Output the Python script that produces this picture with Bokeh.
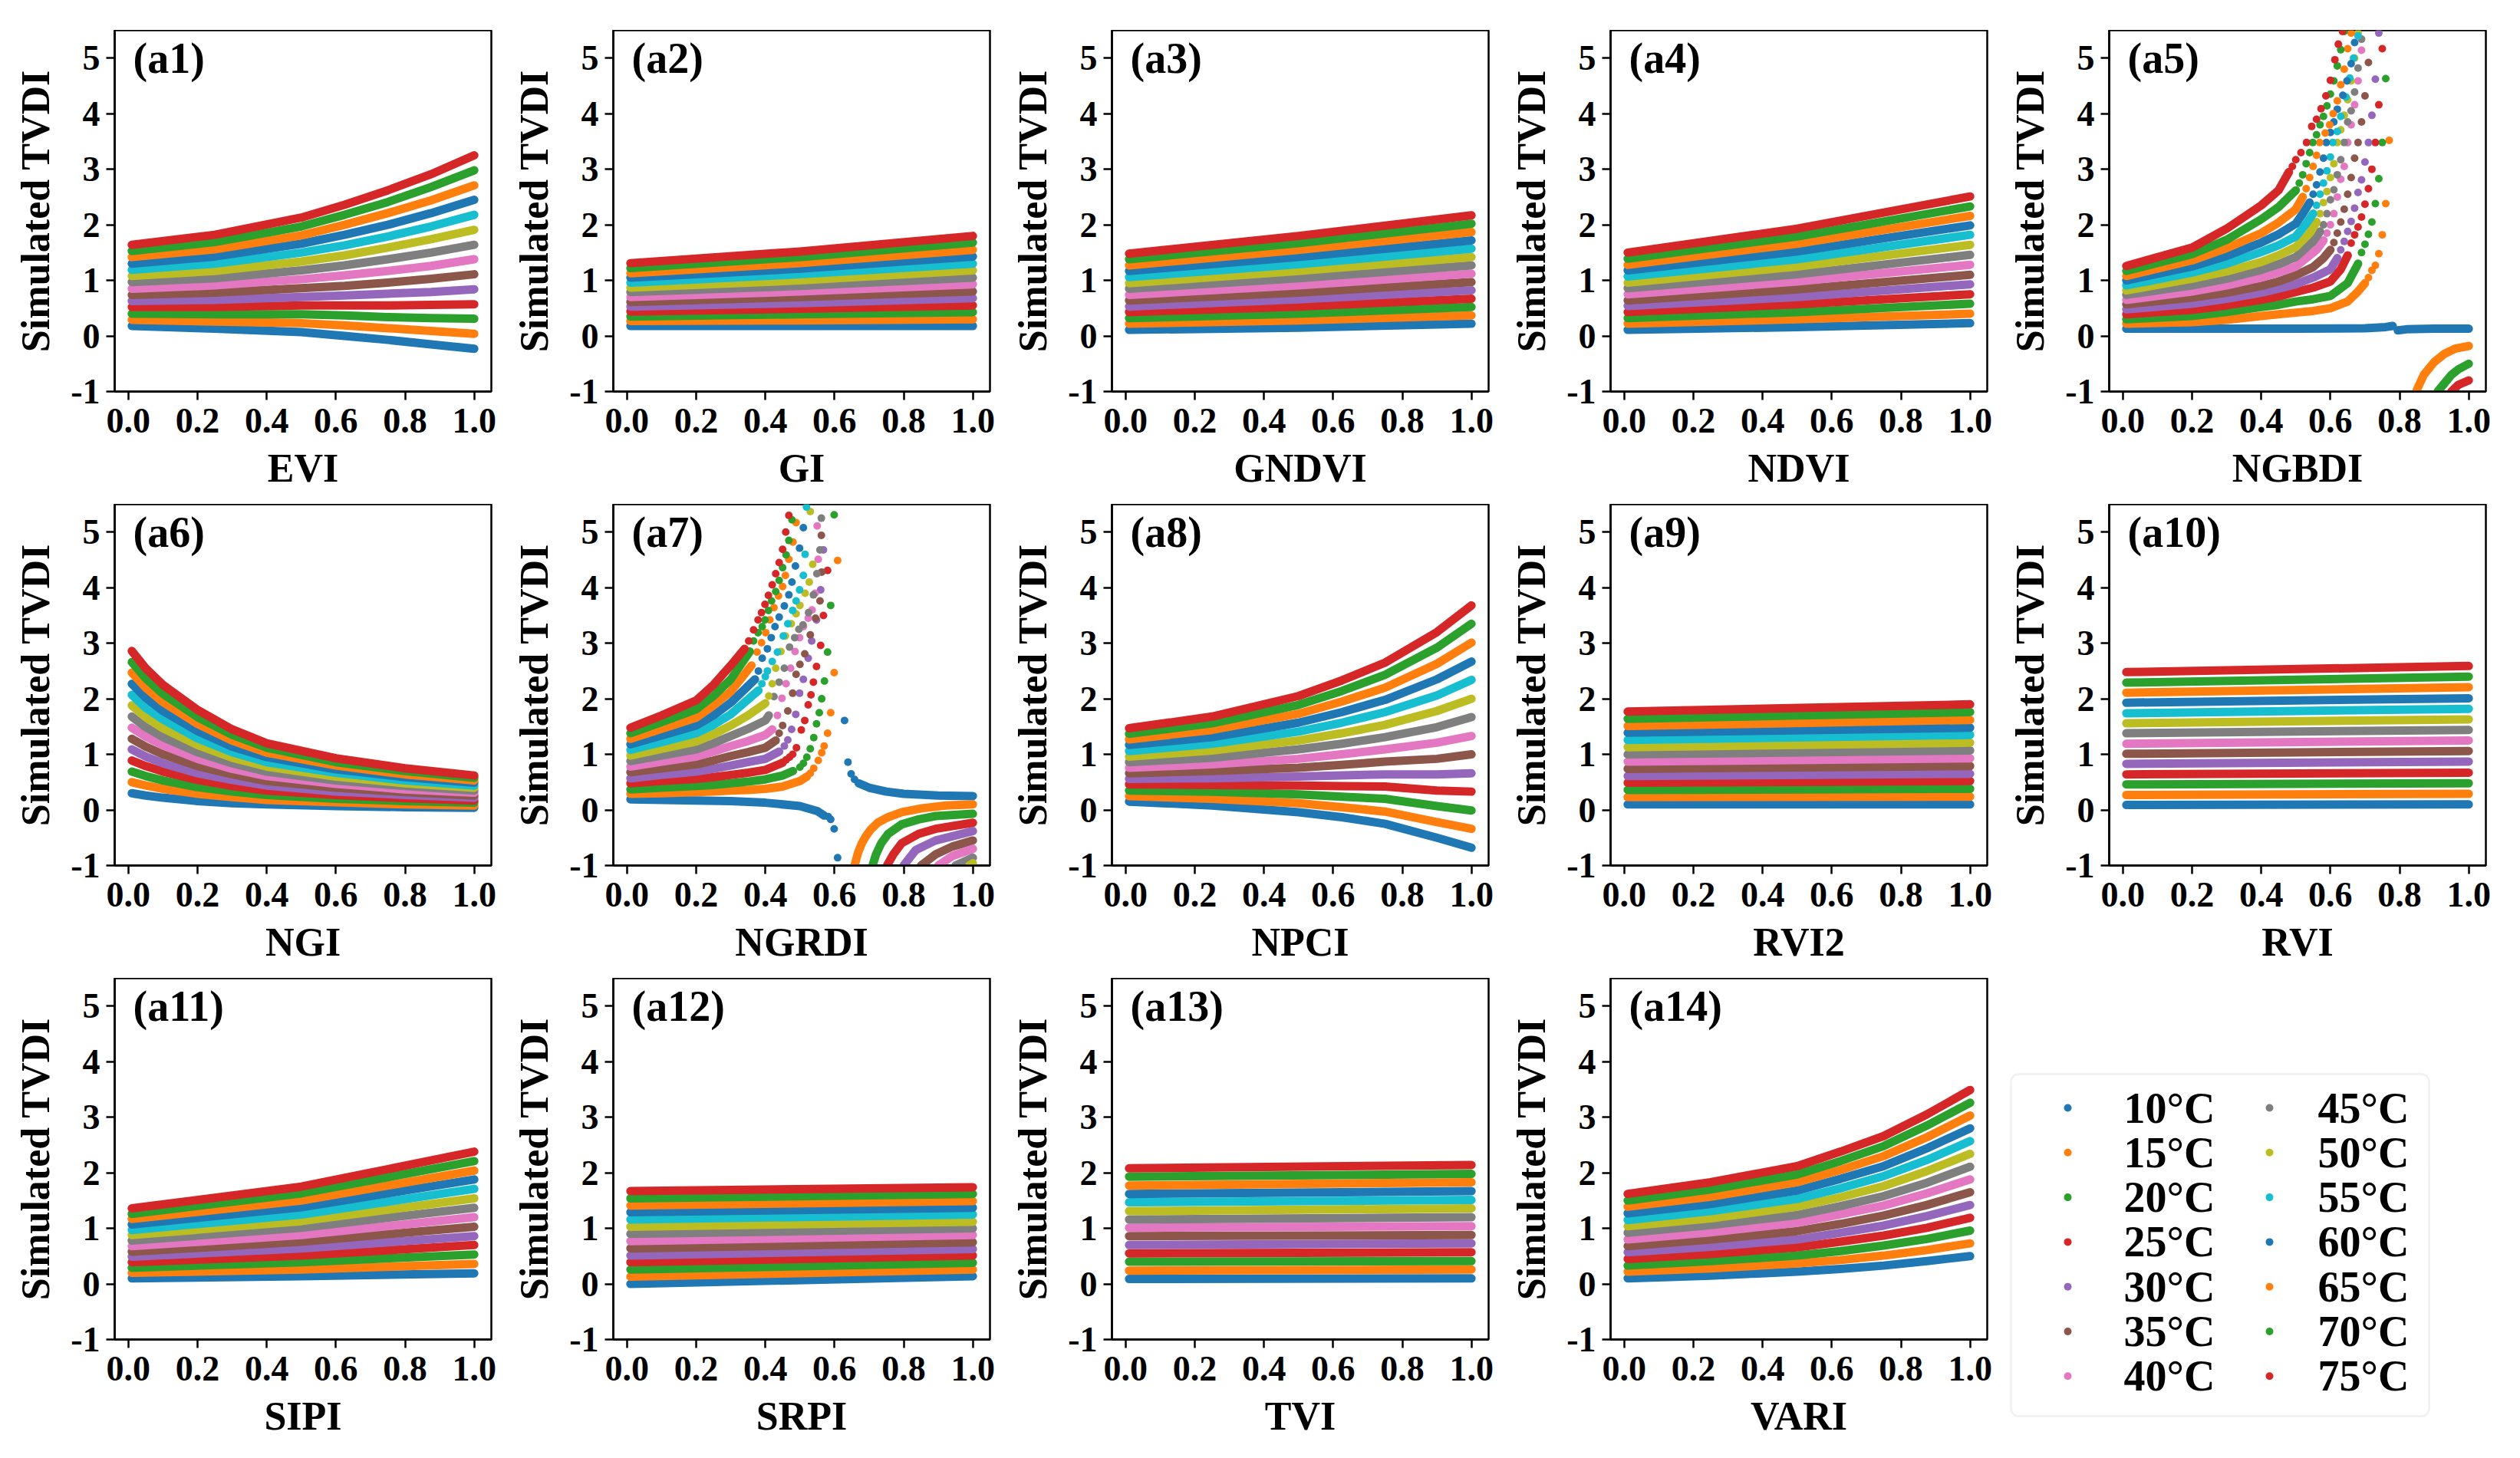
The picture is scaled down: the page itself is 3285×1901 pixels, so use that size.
import numpy as np
from bokeh.plotting import figure
from bokeh.layouts import column, row
from bokeh.models import Range1d, FixedTicker, Label, BoxAnnotation, Spacer, NumeralTickFormatter, ColumnDataSource
from bokeh.embed import file_html
from bokeh.resources import INLINE
from bokeh.core.properties import value

NAN = float("nan")

TEMPS = ["10°C", "15°C", "20°C", "25°C", "30°C", "35°C", "40°C",
         "45°C", "50°C", "55°C", "60°C", "65°C", "70°C", "75°C"]
COLORS = ["#1f77b4", "#ff7f0e", "#2ca02c", "#d62728", "#9467bd", "#8c564b", "#e377c2",
          "#7f7f7f", "#bcbd22", "#17becf", "#1f77b4", "#ff7f0e", "#2ca02c", "#d62728"]
X_TICKS = [0.0, 0.2, 0.4, 0.6, 0.8, 1.0]
Y_TICKS = [-1, 0, 1, 2, 3, 4, 5]

# ---------------- smooth panels: values read at a few VI positions ----------------
EVI_X = [0.01, 0.25, 0.5, 0.625, 0.75, 0.875, 1.0]
EVI_Y = [[0.18, 0.13, 0.07, 0.00, -0.07, -0.15, -0.23], [0.29, 0.26, 0.23, 0.19, 0.14, 0.09, 0.04],
         [0.40, 0.39, 0.39, 0.37, 0.34, 0.32, 0.31], [0.52, 0.52, 0.55, 0.55, 0.55, 0.56, 0.57],
         [0.63, 0.65, 0.70, 0.73, 0.76, 0.79, 0.84], [0.74, 0.78, 0.86, 0.90, 0.96, 1.03, 1.11],
         [0.85, 0.91, 1.02, 1.09, 1.17, 1.26, 1.38], [0.97, 1.04, 1.18, 1.27, 1.38, 1.50, 1.64],
         [1.08, 1.17, 1.34, 1.45, 1.59, 1.74, 1.91], [1.19, 1.30, 1.50, 1.63, 1.79, 1.97, 2.18],
         [1.30, 1.43, 1.66, 1.82, 2.00, 2.21, 2.45], [1.42, 1.56, 1.81, 2.00, 2.21, 2.44, 2.71],
         [1.53, 1.69, 1.97, 2.18, 2.41, 2.68, 2.98], [1.64, 1.82, 2.13, 2.36, 2.62, 2.91, 3.25]]

GI_X = [0.01, 0.5, 1.0]
GI_Y = [[0.18, 0.18, 0.18], [0.27, 0.28, 0.30], [0.35, 0.39, 0.43], [0.44, 0.49, 0.55],
        [0.53, 0.59, 0.68], [0.61, 0.70, 0.80], [0.70, 0.80, 0.93], [0.79, 0.90, 1.05],
        [0.87, 1.00, 1.18], [0.96, 1.11, 1.30], [1.05, 1.21, 1.43], [1.13, 1.31, 1.55],
        [1.22, 1.42, 1.68], [1.31, 1.52, 1.80]]

GNDVI_X = [0.01, 0.5, 1.0]
GNDVI_Y = [[0.11, 0.15, 0.22], [0.22, 0.28, 0.37], [0.32, 0.40, 0.52], [0.43, 0.53, 0.67],
           [0.53, 0.66, 0.82], [0.64, 0.78, 0.97], [0.74, 0.91, 1.12], [0.85, 1.04, 1.27],
           [0.95, 1.17, 1.42], [1.06, 1.29, 1.57], [1.17, 1.42, 1.72], [1.27, 1.55, 1.87],
           [1.38, 1.67, 2.02], [1.48, 1.80, 2.17]]

NDVI_X = [0.01, 0.5, 1.0]
NDVI_Y = [[0.11, 0.16, 0.23], [0.22, 0.30, 0.40], [0.32, 0.43, 0.58], [0.43, 0.57, 0.75],
          [0.54, 0.70, 0.93], [0.64, 0.84, 1.10], [0.75, 0.98, 1.28], [0.86, 1.11, 1.46],
          [0.96, 1.25, 1.64], [1.07, 1.38, 1.82], [1.18, 1.52, 1.99], [1.28, 1.66, 2.16],
          [1.39, 1.79, 2.33], [1.50, 1.93, 2.51]]

NGI_X = [0.01, 0.05, 0.1, 0.2, 0.3, 0.4, 0.6, 0.8, 1.0]
NGI_Y = [[0.30, 0.26, 0.22, 0.16, 0.12, 0.10, 0.07, 0.05, 0.04],
         [0.50, 0.44, 0.38, 0.29, 0.23, 0.18, 0.14, 0.10, 0.08],
         [0.69, 0.61, 0.53, 0.41, 0.33, 0.27, 0.20, 0.16, 0.13],
         [0.89, 0.79, 0.69, 0.54, 0.43, 0.35, 0.27, 0.21, 0.17],
         [1.09, 0.96, 0.84, 0.66, 0.54, 0.44, 0.33, 0.27, 0.22],
         [1.28, 1.14, 1.00, 0.79, 0.64, 0.52, 0.40, 0.32, 0.26],
         [1.48, 1.32, 1.16, 0.92, 0.74, 0.61, 0.47, 0.37, 0.31],
         [1.68, 1.49, 1.31, 1.04, 0.84, 0.69, 0.53, 0.43, 0.35],
         [1.88, 1.67, 1.47, 1.17, 0.94, 0.78, 0.60, 0.48, 0.40],
         [2.07, 1.84, 1.63, 1.29, 1.04, 0.86, 0.67, 0.53, 0.44],
         [2.27, 2.02, 1.78, 1.42, 1.14, 0.95, 0.73, 0.59, 0.49],
         [2.47, 2.20, 1.94, 1.55, 1.25, 1.03, 0.80, 0.64, 0.53],
         [2.66, 2.37, 2.09, 1.67, 1.35, 1.12, 0.86, 0.70, 0.58],
         [2.86, 2.55, 2.25, 1.80, 1.45, 1.20, 0.93, 0.75, 0.62]]

NPCI_X = [0.01, 0.25, 0.5, 0.625, 0.75, 0.9, 1.0]
NPCI_Y = [[0.15, 0.08, -0.04, -0.13, -0.25, -0.50, -0.68], [0.25, 0.20, 0.12, 0.05, -0.03, -0.22, -0.34],
          [0.35, 0.33, 0.28, 0.24, 0.20, 0.07, -0.01], [0.46, 0.45, 0.44, 0.43, 0.42, 0.35, 0.33],
          [0.56, 0.57, 0.60, 0.62, 0.64, 0.64, 0.66], [0.66, 0.70, 0.76, 0.81, 0.87, 0.92, 1.00],
          [0.76, 0.82, 0.92, 1.00, 1.09, 1.21, 1.33], [0.86, 0.94, 1.09, 1.19, 1.31, 1.49, 1.67],
          [0.96, 1.07, 1.25, 1.38, 1.53, 1.78, 2.00], [1.06, 1.19, 1.41, 1.57, 1.76, 2.06, 2.34],
          [1.17, 1.31, 1.57, 1.76, 1.98, 2.35, 2.67], [1.27, 1.44, 1.73, 1.95, 2.20, 2.63, 3.01],
          [1.37, 1.56, 1.89, 2.14, 2.43, 2.92, 3.35], [1.47, 1.68, 2.05, 2.33, 2.65, 3.20, 3.68]]

RVI2_X = [0.01, 1.0]
RVI2_Y = [[0.10, 0.10], [0.23, 0.24], [0.36, 0.38], [0.49, 0.52], [0.61, 0.65], [0.74, 0.79],
          [0.87, 0.93], [1.00, 1.07], [1.13, 1.21], [1.26, 1.35], [1.39, 1.48], [1.51, 1.62],
          [1.64, 1.76], [1.77, 1.90]]

RVI_X = [0.01, 1.0]
RVI_Y = [[0.09, 0.10], [0.27, 0.29], [0.46, 0.48], [0.64, 0.67], [0.83, 0.87], [1.01, 1.06],
         [1.19, 1.25], [1.38, 1.44], [1.56, 1.63], [1.74, 1.82], [1.93, 2.01], [2.11, 2.21],
         [2.29, 2.40], [2.48, 2.59]]

SIPI_X = [0.01, 0.5, 1.0]
SIPI_Y = [[0.10, 0.14, 0.19], [0.20, 0.26, 0.36], [0.29, 0.39, 0.53], [0.39, 0.51, 0.70],
          [0.49, 0.64, 0.86], [0.58, 0.76, 1.03], [0.68, 0.88, 1.20], [0.78, 1.01, 1.37],
          [0.88, 1.13, 1.54], [0.97, 1.25, 1.71], [1.07, 1.38, 1.88], [1.17, 1.50, 2.04],
          [1.26, 1.63, 2.21], [1.36, 1.75, 2.38]]

SRPI_X = [0.01, 1.0]
SRPI_Y = [[0.00, 0.14], [0.13, 0.26], [0.26, 0.38], [0.39, 0.51], [0.51, 0.63], [0.64, 0.75],
          [0.77, 0.88], [0.90, 1.00], [1.03, 1.12], [1.16, 1.25], [1.29, 1.37], [1.41, 1.49],
          [1.54, 1.62], [1.67, 1.74]]

TVI_X = [0.01, 1.0]
TVI_Y = [[0.09, 0.10], [0.24, 0.26], [0.40, 0.41], [0.55, 0.57], [0.70, 0.73], [0.86, 0.88],
         [1.01, 1.04], [1.16, 1.20], [1.31, 1.36], [1.47, 1.51], [1.62, 1.67], [1.77, 1.83],
         [1.93, 1.98], [2.08, 2.14]]

VARI_X = [0.01, 0.25, 0.5, 0.625, 0.75, 0.875, 1.0]
VARI_Y = [[0.10, 0.15, 0.22, 0.27, 0.33, 0.41, 0.50], [0.22, 0.28, 0.37, 0.43, 0.51, 0.61, 0.73],
          [0.33, 0.41, 0.51, 0.59, 0.69, 0.81, 0.96], [0.45, 0.54, 0.66, 0.76, 0.87, 1.01, 1.19],
          [0.57, 0.67, 0.80, 0.92, 1.05, 1.22, 1.42], [0.68, 0.80, 0.95, 1.08, 1.23, 1.42, 1.65],
          [0.80, 0.93, 1.10, 1.25, 1.41, 1.63, 1.88], [0.92, 1.06, 1.24, 1.40, 1.58, 1.82, 2.11],
          [1.04, 1.18, 1.39, 1.56, 1.76, 2.03, 2.34], [1.15, 1.31, 1.53, 1.72, 1.94, 2.23, 2.57],
          [1.27, 1.44, 1.68, 1.89, 2.12, 2.44, 2.80], [1.39, 1.57, 1.83, 2.05, 2.30, 2.64, 3.03],
          [1.50, 1.70, 1.97, 2.21, 2.48, 2.85, 3.26], [1.62, 1.83, 2.12, 2.38, 2.66, 3.05, 3.49]]

# ---------------- NGBDI: dense parts (lines, NAN = break) and sparse dots ----------------
NGBDI_LINE_X = [
    [0.01, 0.5, 0.7, 0.76, 0.78, NAN, 0.795, 0.82, 0.9, 1.0],
    [0.01, 0.2, 0.3, 0.4, 0.45, 0.5, 0.55, 0.6, 0.65, 0.68, 0.70, NAN, 0.85, 0.87, 0.90, 0.93, 0.96, 1.0],
    [0.01, 0.2, 0.3, 0.4, 0.45, 0.5, 0.55, 0.6, 0.65, 0.68, NAN, 0.91, 0.93, 0.95, 0.97, 1.0],
    [0.01, 0.2, 0.3, 0.4, 0.45, 0.5, 0.55, 0.6, 0.63, 0.65, NAN, 0.95, 0.97, 1.0],
    [0.01, 0.2, 0.3, 0.4, 0.45, 0.5, 0.55, 0.6, 0.62],
    [0.01, 0.2, 0.3, 0.4, 0.45, 0.5, 0.55, 0.58, 0.60],
    [0.01, 0.2, 0.3, 0.4, 0.45, 0.5, 0.56, 0.58],
    [0.01, 0.2, 0.3, 0.4, 0.45, 0.5, 0.55, 0.57],
    [0.01, 0.2, 0.3, 0.4, 0.45, 0.5, 0.54, 0.56],
    [0.01, 0.2, 0.3, 0.4, 0.45, 0.5, 0.53, 0.55],
    [0.01, 0.2, 0.3, 0.4, 0.45, 0.5, 0.52, 0.54],
    [0.01, 0.2, 0.3, 0.4, 0.45, 0.5, 0.52],
    [0.01, 0.2, 0.3, 0.4, 0.45, 0.5],
    [0.01, 0.2, 0.3, 0.4, 0.45, 0.48]]
NGBDI_LINE_Y = [
    [0.13, 0.13, 0.14, 0.16, 0.18, NAN, 0.10, 0.12, 0.13, 0.13],
    [0.22, 0.25, 0.29, 0.36, 0.39, 0.42, 0.45, 0.50, 0.62, 0.80, 0.95, NAN, -0.97, -0.70, -0.47, -0.32, -0.23, -0.18],
    [0.30, 0.36, 0.43, 0.52, 0.56, 0.62, 0.66, 0.72, 0.95, 1.30, NAN, -1.0, -0.85, -0.70, -0.60, -0.50],
    [0.39, 0.47, 0.55, 0.65, 0.71, 0.79, 0.87, 0.98, 1.20, 1.45, NAN, -1.0, -0.88, -0.80],
    [0.48, 0.58, 0.67, 0.78, 0.85, 0.93, 1.05, 1.20, 1.40],
    [0.57, 0.69, 0.78, 0.90, 0.98, 1.09, 1.24, 1.40, 1.55],
    [0.65, 0.80, 0.91, 1.05, 1.14, 1.25, 1.55, 1.72],
    [0.74, 0.91, 1.03, 1.19, 1.29, 1.42, 1.70, 1.88],
    [0.82, 1.03, 1.16, 1.33, 1.45, 1.60, 1.85, 2.05],
    [0.91, 1.14, 1.30, 1.51, 1.63, 1.79, 2.02, 2.20],
    [1.00, 1.25, 1.44, 1.68, 1.83, 2.02, 2.20, 2.40],
    [1.08, 1.36, 1.58, 1.85, 2.04, 2.28, 2.50],
    [1.17, 1.47, 1.73, 2.10, 2.32, 2.62],
    [1.26, 1.59, 1.93, 2.35, 2.62, 2.95]]
NGBDI_DOT_X = [
    [],
    [0.71, 0.72, 0.73, 0.74, 0.75, 0.76, 0.77],
    [0.69, 0.70, 0.71, 0.72, 0.73, 0.74, 0.75, 0.76],
    [0.66, 0.67, 0.68, 0.69, 0.70, 0.71, 0.72, 0.73, 0.74, 0.75],
    [0.63, 0.64, 0.65, 0.66, 0.67, 0.68, 0.69, 0.70, 0.71, 0.72, 0.73, 0.74],
    [0.61, 0.62, 0.63, 0.64, 0.65, 0.66, 0.67, 0.68, 0.69, 0.70, 0.71],
    [0.59, 0.60, 0.61, 0.62, 0.63, 0.64, 0.65, 0.66, 0.67, 0.68, 0.69],
    [0.58, 0.59, 0.60, 0.61, 0.62, 0.63, 0.64, 0.65, 0.66, 0.67, 0.68, 0.69],
    [0.57, 0.58, 0.59, 0.60, 0.61, 0.62, 0.63, 0.64, 0.65, 0.66, 0.67, 0.68],
    [0.56, 0.57, 0.58, 0.59, 0.60, 0.607, 0.62, 0.63, 0.645, 0.656, 0.667, 0.68],
    [0.55, 0.56, 0.57, 0.58, 0.588, 0.60, 0.61, 0.62, 0.636, 0.648, 0.66, 0.67],
    [0.53, 0.54, 0.55, 0.56, 0.569, 0.585, 0.598, 0.608, 0.62, 0.63, 0.64, 0.65, 0.66],
    [0.51, 0.52, 0.53, 0.54, 0.549, 0.56, 0.57, 0.58, 0.59, 0.60, 0.61, 0.62, 0.63, 0.64],
    [0.49, 0.50, 0.515, 0.531, 0.546, 0.56, 0.573, 0.587, 0.60, 0.613, 0.623, 0.635]]
NGBDI_DOT_Y = [
    [],
    [1.05, 1.18, 1.27, 1.48, 1.82, 2.38, 3.52],
    [1.50, 1.65, 1.83, 2.05, 2.38, 2.83, 3.48, 4.63],
    [1.67, 1.82, 1.96, 2.14, 2.37, 2.65, 3.00, 3.48, 4.16, 5.17],
    [1.55, 1.70, 1.88, 2.06, 2.30, 2.58, 2.81, 3.13, 3.48, 3.97, 4.62, 5.45],
    [1.68, 1.85, 2.05, 2.28, 2.55, 2.85, 3.20, 3.48, 3.85, 4.32, 4.92],
    [1.85, 2.00, 2.20, 2.50, 2.82, 3.05, 3.48, 3.80, 4.16, 4.59, 5.14],
    [2.00, 2.20, 2.45, 2.63, 2.90, 3.17, 3.48, 3.85, 4.05, 4.39, 4.82, 5.34],
    [2.20, 2.40, 2.60, 2.85, 3.10, 3.48, 3.71, 3.97, 4.25, 4.59, 5.00, 5.45],
    [2.35, 2.55, 2.75, 2.97, 3.22, 3.48, 3.68, 3.95, 4.30, 4.64, 5.00, 5.40],
    [2.55, 2.72, 2.95, 3.20, 3.48, 3.66, 3.85, 4.08, 4.33, 4.59, 4.90, 5.28],
    [2.65, 2.85, 3.05, 3.25, 3.48, 3.65, 3.80, 4.00, 4.23, 4.52, 4.80, 5.17, 5.45],
    [2.75, 2.90, 3.10, 3.30, 3.48, 3.62, 3.80, 3.95, 4.14, 4.35, 4.59, 4.86, 5.15, 5.48],
    [3.05, 3.17, 3.30, 3.48, 3.77, 3.90, 4.09, 4.32, 4.60, 4.97, 5.25, 5.48]]

# ---------------- NGRDI: dense parts and sparse dots ----------------
NGRDI_LINE_X = [
    [0.01, 0.2, 0.3, 0.4, 0.5, 0.55, 0.57, NAN, 0.67, 0.70, 0.75, 0.80, 0.90, 1.0],
    [0.01, 0.1, 0.2, 0.25, 0.3, 0.35, 0.4, 0.45, 0.5, 0.52, NAN, 0.658, 0.668, 0.679, 0.69, 0.705, 0.725, 0.755, 0.795, 0.853, 0.922, 1.0],
    [0.01, 0.1, 0.2, 0.25, 0.3, 0.35, 0.4, 0.45, 0.48, NAN, 0.71, 0.72, 0.735, 0.755, 0.794, 0.843, 0.892, 1.0],
    [0.01, 0.1, 0.2, 0.25, 0.3, 0.35, 0.4, 0.45, NAN, 0.752, 0.77, 0.794, 0.843, 0.892, 1.0],
    [0.01, 0.1, 0.2, 0.25, 0.3, 0.35, 0.4, 0.44, NAN, 0.80, 0.835, 0.892, 1.0],
    [0.01, 0.1, 0.2, 0.25, 0.3, 0.35, 0.4, 0.43, NAN, 0.85, 0.892, 0.94, 1.0],
    [0.01, 0.1, 0.2, 0.25, 0.3, 0.35, 0.4, 0.42, NAN, 0.90, 0.94, 1.0],
    [0.01, 0.1, 0.2, 0.25, 0.3, 0.35, 0.4, 0.41, NAN, 0.95, 1.0],
    [0.01, 0.1, 0.2, 0.25, 0.3, 0.35, 0.4, NAN, 0.99, 1.0],
    [0.01, 0.1, 0.2, 0.25, 0.3, 0.38],
    [0.01, 0.1, 0.2, 0.25, 0.3, 0.37],
    [0.01, 0.1, 0.2, 0.25, 0.3, 0.36],
    [0.01, 0.1, 0.2, 0.25, 0.3, 0.355],
    [0.01, 0.1, 0.2, 0.25, 0.3, 0.34]]
NGRDI_LINE_Y = [
    [0.19, 0.17, 0.16, 0.13, 0.07, -0.02, -0.10, NAN, 0.48, 0.40, 0.33, 0.29, 0.26, 0.25],
    [0.29, 0.30, 0.32, 0.33, 0.35, 0.36, 0.38, 0.42, 0.52, 0.60, NAN, -1.0, -0.77, -0.60, -0.48, -0.35, -0.23, -0.13, -0.04, 0.03, 0.08, 0.10],
    [0.37, 0.40, 0.43, 0.45, 0.48, 0.51, 0.55, 0.62, 0.70, NAN, -1.0, -0.80, -0.60, -0.43, -0.26, -0.17, -0.11, -0.07],
    [0.48, 0.52, 0.56, 0.59, 0.63, 0.67, 0.72, 0.85, NAN, -1.0, -0.80, -0.60, -0.43, -0.34, -0.23],
    [0.57, 0.63, 0.69, 0.74, 0.80, 0.86, 0.92, 1.05, NAN, -1.0, -0.72, -0.55, -0.38],
    [0.68, 0.75, 0.82, 0.89, 0.97, 1.04, 1.12, 1.25, NAN, -1.0, -0.80, -0.66, -0.55],
    [0.78, 0.87, 0.96, 1.05, 1.15, 1.24, 1.35, 1.45, NAN, -1.0, -0.83, -0.70],
    [0.88, 0.98, 1.09, 1.20, 1.33, 1.46, 1.61, 1.70, NAN, -1.0, -0.86],
    [0.98, 1.10, 1.23, 1.36, 1.52, 1.70, 1.92, NAN, -1.0, -0.96],
    [1.08, 1.22, 1.38, 1.53, 1.72, 2.15],
    [1.18, 1.34, 1.52, 1.70, 1.93, 2.35],
    [1.28, 1.46, 1.66, 1.88, 2.13, 2.60],
    [1.38, 1.58, 1.81, 2.05, 2.35, 2.85],
    [1.48, 1.70, 1.97, 2.25, 2.60, 2.90]]
NGRDI_DOT_X = [
    [0.582, 0.589, 0.599, 0.609, 0.629, 0.639, 0.648, 0.658],
    [0.53, 0.54, 0.553, 0.563, 0.57, 0.58, 0.589, 0.599, 0.609],
    [0.50, 0.51, 0.52, 0.53, 0.54, 0.548, 0.556, 0.563, 0.571, 0.58, 0.589, 0.599],
    [0.46, 0.47, 0.479, 0.49, 0.504, 0.514, 0.524, 0.532, 0.539, 0.548, 0.56, 0.568, 0.58],
    [0.455, 0.465, 0.476, 0.488, 0.499, 0.51, 0.524, 0.534, 0.548, 0.56, 0.568],
    [0.44, 0.45, 0.465, 0.479, 0.489, 0.50, 0.514, 0.53, 0.545, 0.558, 0.563, 0.562],
    [0.435, 0.448, 0.46, 0.473, 0.486, 0.499, 0.51, 0.524, 0.535, 0.544, 0.553, 0.55],
    [0.425, 0.44, 0.455, 0.47, 0.485, 0.497, 0.509, 0.525, 0.539, 0.549, 0.558, 0.562],
    [0.41, 0.42, 0.43, 0.445, 0.458, 0.475, 0.489, 0.50, 0.515, 0.527, 0.537, 0.53],
    [0.39, 0.40, 0.406, 0.42, 0.435, 0.452, 0.465, 0.479, 0.489, 0.499, 0.51, 0.515, 0.519],
    [0.38, 0.391, 0.406, 0.417, 0.428, 0.44, 0.455, 0.468, 0.477, 0.487, 0.499, 0.51],
    [0.376, 0.389, 0.401, 0.413, 0.425, 0.438, 0.45, 0.458, 0.468, 0.48, 0.489],
    [0.366, 0.379, 0.391, 0.399, 0.409, 0.418, 0.43, 0.44, 0.45, 0.46, 0.468, 0.477],
    [0.352, 0.366, 0.379, 0.389, 0.399, 0.409, 0.42, 0.43, 0.44, 0.45, 0.459, 0.468]]
NGRDI_DOT_Y = [
    [-0.12, -0.17, -0.34, -0.86, 1.61, 0.86, 0.65, 0.55],
    [0.66, 0.75, 0.89, 1.03, 1.15, 1.38, 1.75, 2.47, 4.49],
    [0.77, 0.84, 0.95, 1.10, 1.30, 1.55, 1.75, 2.00, 2.32, 2.84, 3.68, 5.31],
    [0.90, 0.95, 1.00, 1.12, 1.44, 1.61, 1.89, 2.07, 2.30, 2.58, 2.96, 3.50, 4.31],
    [1.15, 1.26, 1.45, 1.72, 2.10, 2.35, 2.73, 3.04, 3.42, 3.96, 4.68],
    [1.38, 1.52, 1.78, 2.10, 2.44, 2.62, 2.81, 3.15, 3.45, 3.76, 4.28, 4.94],
    [1.70, 2.01, 2.27, 2.55, 2.85, 3.10, 3.30, 3.45, 3.60, 3.90, 4.51, 5.11],
    [2.04, 2.30, 2.55, 2.93, 3.10, 3.25, 3.33, 3.55, 3.87, 4.25, 4.68, 5.25],
    [2.05, 2.27, 2.55, 2.85, 3.13, 3.35, 3.53, 3.68, 3.90, 4.10, 4.42, 5.37],
    [2.27, 2.40, 2.50, 2.67, 2.84, 3.13, 3.35, 3.59, 3.76, 3.96, 4.22, 4.60, 5.45],
    [2.50, 2.73, 2.90, 3.10, 3.30, 3.47, 3.67, 3.87, 4.10, 4.39, 4.71, 5.08],
    [2.84, 3.01, 3.19, 3.42, 3.64, 3.85, 4.02, 4.22, 4.51, 4.82, 5.17],
    [3.04, 3.19, 3.30, 3.42, 3.59, 3.76, 3.93, 4.13, 4.36, 4.59, 4.85, 5.22],
    [3.04, 3.24, 3.42, 3.55, 3.70, 3.86, 4.05, 4.25, 4.45, 4.69, 5.00, 5.30]]

PANELS = [
    ("(a1)", "EVI", EVI_X, EVI_Y), ("(a2)", "GI", GI_X, GI_Y),
    ("(a3)", "GNDVI", GNDVI_X, GNDVI_Y), ("(a4)", "NDVI", NDVI_X, NDVI_Y),
    ("(a5)", "NGBDI", None, None), ("(a6)", "NGI", NGI_X, NGI_Y),
    ("(a7)", "NGRDI", None, None), ("(a8)", "NPCI", NPCI_X, NPCI_Y),
    ("(a9)", "RVI2", RVI2_X, RVI2_Y), ("(a10)", "RVI", RVI_X, RVI_Y),
    ("(a11)", "SIPI", SIPI_X, SIPI_Y), ("(a12)", "SRPI", SRPI_X, SRPI_Y),
    ("(a13)", "TVI", TVI_X, TVI_Y), ("(a14)", "VARI", VARI_X, VARI_Y)]

FONT = "Liberation Serif"
LW = 11
DOT = 10
CELL_W, CELL_H = 650, 618
LEG_TOP = 100   # legend figure starts this far below the top of its cell


def styled_panel(tag, xlabel):
    p = figure(width=CELL_W, height=CELL_H, x_range=Range1d(-0.0395, 1.0495),
               y_range=Range1d(-1, 5.5), output_backend="svg", toolbar_location=None,
               min_border_left=149, min_border_right=10, min_border_top=0,
               min_border_bottom=147)
    p.xgrid.visible = False
    p.ygrid.visible = False
    p.outline_line_color = "black"
    p.outline_line_width = 2.5
    p.outline_line_alpha = 1.0
    p.xaxis.ticker = FixedTicker(ticks=X_TICKS)
    p.yaxis.ticker = FixedTicker(ticks=Y_TICKS)
    p.xaxis.formatter = NumeralTickFormatter(format="0.0")
    p.yaxis.major_label_overrides = {-1: "-1"}
    for ax in (p.xaxis[0], p.yaxis[0]):
        ax.major_label_text_font = FONT
        ax.major_label_text_font_style = "bold"
        ax.major_label_text_font_size = "46px"
        ax.major_label_text_color = "black"
        ax.axis_label_text_font = FONT
        ax.axis_label_text_font_style = "bold"
        ax.axis_label_text_font_size = "52px"
        ax.axis_label_text_color = "black"
        ax.major_tick_out = 11
        ax.major_tick_in = 0
        ax.minor_tick_out = 0
        ax.minor_tick_in = 0
        ax.major_tick_line_width = 2.5
        ax.major_tick_line_color = "black"
        ax.axis_line_width = 2.5
        ax.axis_line_color = "black"
    p.xaxis.axis_label = xlabel
    p.yaxis.axis_label = "Simulated TVDI"
    p.xaxis.major_label_standoff = 11
    p.yaxis.major_label_standoff = 8
    p.xaxis.axis_label_standoff = 15
    p.yaxis.axis_label_standoff = 14
    p.add_layout(Label(x=0.014, y=5.43, text=tag, text_font=FONT, text_font_style="bold",
                       text_font_size="56px", text_baseline="top", text_align="left",
                       text_color="black"))
    return p


def draw_lines_dots(p, lx, ly, dx, dy):
    for i in range(len(TEMPS)):
        p.line(np.array(lx[i], dtype=float), np.array(ly[i], dtype=float),
               line_width=LW, line_color=COLORS[i], line_cap="round", line_join="round")
        if dx[i]:
            p.scatter(np.array(dx[i], dtype=float), np.array(dy[i], dtype=float),
                      marker="circle", size=DOT, fill_color=COLORS[i], line_color=None)


figs = []
for tag, name, xs, ys in PANELS:
    p = styled_panel(tag, name)
    if name == "NGBDI":
        draw_lines_dots(p, NGBDI_LINE_X, NGBDI_LINE_Y, NGBDI_DOT_X, NGBDI_DOT_Y)
    elif name == "NGRDI":
        draw_lines_dots(p, NGRDI_LINE_X, NGRDI_LINE_Y, NGRDI_DOT_X, NGRDI_DOT_Y)
    else:
        for i in range(len(TEMPS)):
            p.line(xs, ys[i], line_width=LW, line_color=COLORS[i],
                   line_cap="round", line_join="round")
    figs.append(p)

# ---------------- legend cell (cell pixel coordinates) ----------------
leg = figure(width=CELL_W, height=CELL_H - LEG_TOP, x_range=Range1d(0, CELL_W),
             y_range=Range1d(CELL_H, LEG_TOP),
             output_backend="svg", toolbar_location=None, min_border=0,
             min_border_left=0, min_border_right=0, min_border_top=0, min_border_bottom=0,
             x_axis_location=None, y_axis_location=None)
leg.outline_line_color = None
leg.grid.visible = False
leg.add_layout(BoxAnnotation(left=21, right=566, top=125, bottom=571, fill_color="white",
                             fill_alpha=1.0, line_color="#cccccc", line_width=2.5,
                             border_radius=10, level="underlay"))
DOT_COL_X = [95, 358]
TEXT_COL_X = [168, 421]
ROW0, ROW_STEP = 169, 58.3
src = ColumnDataSource(dict(
    dx=[DOT_COL_X[i // 7] for i in range(len(TEMPS))],
    tx=[TEXT_COL_X[i // 7] for i in range(len(TEMPS))],
    y=[ROW0 + ROW_STEP * (i % 7) for i in range(len(TEMPS))],
    c=COLORS, t=TEMPS))
leg.scatter("dx", "y", source=src, marker="circle", size=DOT, fill_color="c", line_color=None)
leg.text("tx", "y", text="t", source=src, text_font=value(FONT), text_font_style="bold",
         text_font_size="56px", text_baseline="middle", text_align="left", text_color="black")
leg_cell = column(Spacer(width=CELL_W, height=LEG_TOP), leg, spacing=0)

rows = [row(*figs[0:5], spacing=0), row(*figs[5:10], spacing=0),
        row(*figs[10:14], leg_cell, spacing=0)]
layout = column(Spacer(width=10, height=39), *rows, spacing=0)

open("out.html", "w").write(file_html(layout, INLINE))
